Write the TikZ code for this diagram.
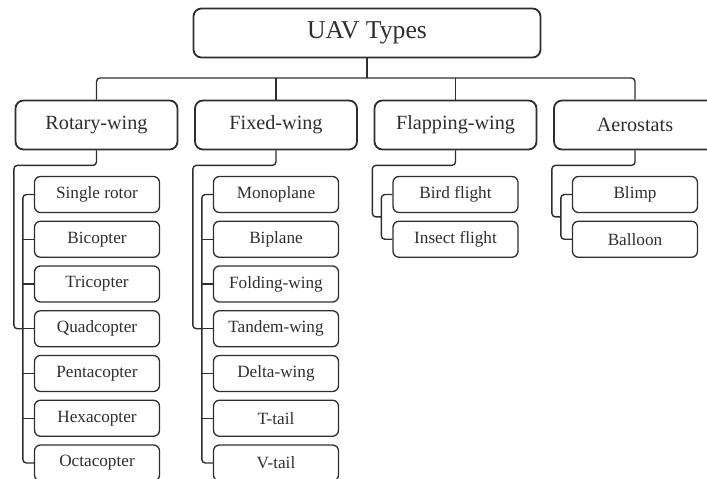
\documentclass[tikz,border=0pt]{standalone}
\usepackage{fontspec}
\setmainfont{Liberation Serif}
\usetikzlibrary{calc}
\definecolor{ink}{HTML}{2E2E2E}
\begin{document}
\begin{tikzpicture}[x=1pt,y=-1pt,
  topbox/.style={draw=ink, line width=1.8pt, rounded corners=8pt, inner sep=0pt,
    minimum width=347pt, minimum height=49pt, text=ink,
    font=\fontsize{25.7}{30}\selectfont},
  catbox/.style={draw=ink, line width=1.8pt, rounded corners=8pt, inner sep=0pt,
    minimum width=162pt, minimum height=49pt, text=ink,
    font=\fontsize{20.2}{24}\selectfont},
  itembox/.style={draw=ink, line width=1.3pt, rounded corners=6pt, inner sep=0pt,
    minimum width=125pt, minimum height=36pt, text=ink,
    font=\fontsize{17.2}{20}\selectfont},
  link/.style={draw=ink, line width=1.4pt, rounded corners=3.5pt}]
\useasboundingbox (0,0) rectangle (707,479);
\clip (0,0) rectangle (707,479);

% root and categories
\node[topbox] (uav) at (367,33) {UAV Types};
\node[catbox] (rot)  at (96.5,125) {Rotary-wing};
\node[catbox] (fix)  at (276,125)  {Fixed-wing};
\node[catbox] (flap) at (455.5,125){Flapping-wing};
\node[catbox] (aero) at (635,125)  {Aerostats};

% bus from root to categories
\coordinate (bus) at (0,78);
\draw[link] (rot.north) -- (rot.north |- bus) -- (aero.north |- bus) -- (aero.north);
\draw[link] (uav.south) -- (uav.south |- bus);
\draw[link] (fix.north) -- (fix.north |- bus);
\draw[link] (flap.north) -- (flap.north |- bus);

% leaf items
\foreach \t [count=\i] in {Single rotor,Bicopter,Tricopter,Quadcopter,Pentacopter,Hexacopter,Octacopter}
  \node[itembox] (r\i) at (97,{194.5+(\i-1)*44.75}) {\t};
\foreach \t [count=\i] in {Monoplane,Biplane,Folding-wing,Tandem-wing,Delta-wing,T-tail,V-tail}
  \node[itembox] (f\i) at (276,{194.5+(\i-1)*44.75}) {\t};
\foreach \t [count=\i] in {Bird flight,Insect flight}
  \node[itembox] (p\i) at (455.5,{194.5+(\i-1)*44.75}) {\t};
\foreach \t [count=\i] in {Blimp,Balloon}
  \node[itembox] (a\i) at (635,{194.5+(\i-1)*44.75}) {\t};

% brackets joining the leaves of each category
\foreach \g/\n in {r/7,f/7,p/2,a/2}{
  \draw[link] (\g1.west) -- ++(-11,0) |- (\g\n.west);
}
\foreach \i in {2,...,6}{
  \draw[link] (r\i.west) -- ++(-11,0);
  \draw[link] (f\i.west) -- ++(-11,0);
}

% category to bracket
\draw[link] (rot.south) -- ++(0,15) -| ($(r4.west)+(-20,0)$) -- ($(r4.west)+(-11,0)$);
\draw[link] (fix.south) -- ++(0,15) -| ($(f4.west)+(-20,0)$) -- ($(f4.west)+(-11,0)$);
\coordinate (pm) at ($(p1.west)!0.5!(p2.west)$);
\coordinate (am) at ($(a1.west)!0.5!(a2.west)$);
\draw[link] (flap.south) -- ++(0,15) -| ($(pm)+(-20,0)$) -- ($(pm)+(-11,0)$);
\draw[link] (aero.south) -- ++(0,15) -| ($(am)+(-20,0)$) -- ($(am)+(-11,0)$);
\end{tikzpicture}
\end{document}
